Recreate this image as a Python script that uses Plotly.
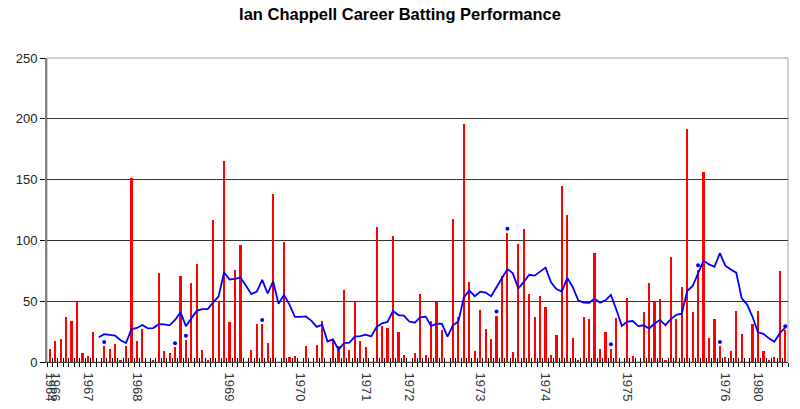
import plotly.graph_objects as go

# ---- data ----
innings = list(range(1, 137))
scores = [
    11, 17, 19, 37, 34, 49, 7, 5, 25, 0,
    13, 11, 15, 2, 13, 151, 17, 27, 0, 2,
    73, 9, 7, 12, 71, 18, 65, 81, 10, 2,
    117, 49, 165, 33, 76, 96, 0, 10, 31, 31,
    16, 138, 0, 99, 4, 5, 0, 13, 0, 14,
    34, 0, 17, 13, 59, 10, 49, 17, 12, 0,
    111, 30, 28, 104, 25, 6, 0, 7, 56, 6,
    34, 49, 26, 0, 118, 37, 196, 66, 9, 43,
    27, 19, 38, 71, 106, 8, 97, 109, 56, 37,
    54, 45, 6, 22, 145, 121, 20, 1, 37, 35,
    90, 11, 25, 11, 36, 0, 53, 5, 0, 41,
    65, 49, 52, 2, 86, 35, 62, 192, 41, 76,
    156, 20, 35, 13, 4, 9, 42, 23, 0, 31,
    42, 9, 2, 4, 75, 26,
]
not_out_innings = [11, 24, 26, 40, 83, 85, 104, 120, 124, 136]
year_tick_innings = [1, 2, 8, 17, 34, 47, 59, 67, 80, 92, 107, 125, 131]
year_tick_labels = ["1964", "1966", "1967", "1968", "1969", "1970", "1971",
                    "1972", "1973", "1974", "1975", "1976", "1980"]
y_ticks = [0, 50, 100, 150, 200, 250]

# ---- derived series ----
not_out_set = set(not_out_innings)
# batting average over the last ten innings (runs / dismissals)
avg_x, avg_y = [], []
for k in range(9, len(scores)):
    window = range(k - 9, k + 1)
    runs = sum(scores[j] for j in window)
    outs = sum(1 for j in window if innings[j] not in not_out_set)
    avg_x.append(innings[k])
    avg_y.append(runs / outs if outs else None)

NOTOUT_LIFT = 3.5
no_x = [i for i in not_out_innings]
no_y = [scores[i - 1] + NOTOUT_LIFT for i in not_out_innings]

boundaries = [i + 0.5 for i in range(0, len(innings) + 1)]

fig = go.Figure()
fig.add_trace(go.Bar(x=innings, y=scores, marker=dict(color="#FF0000", line=dict(width=0)),
                     width=0.4, showlegend=False, hoverinfo="x+y"))
fig.add_trace(go.Scatter(x=avg_x, y=avg_y, mode="lines",
                         line=dict(color="#0000FF", width=1.8), showlegend=False))
fig.add_trace(go.Scatter(x=no_x, y=no_y, mode="markers",
                         marker=dict(color="#0000FF", size=4), showlegend=False))
# invisible helper trace for the inner half of the crossing ticks
fig.add_trace(go.Scatter(x=[innings[0]], y=[0], xaxis="x2", mode="markers",
                         marker=dict(opacity=0), showlegend=False, hoverinfo="skip"))

fig.update_layout(
    width=800, height=409,
    margin=dict(l=47, r=12, t=58, b=47, autoexpand=False),
    paper_bgcolor="white", plot_bgcolor="white",
    font=dict(family="Liberation Sans, Arial, sans-serif", size=13, color="#222222"),
    title=dict(text="<b>Ian Chappell Career Batting Performance</b>",
               x=0.5, xanchor="center", y=0.98, yanchor="top",
               font=dict(size=16.5, color="#000000")),
    bargap=0,
    xaxis=dict(
        range=[0.5, len(innings) + 0.5], tickmode="array",
        tickvals=year_tick_innings, ticktext=year_tick_labels,
        tickangle=90, ticks="", showgrid=False, zeroline=False,
        showline=True, linecolor="#404040", linewidth=1, automargin=False,
        tickfont=dict(size=13, color="#333333"), ticklabelstandoff=7,
        minor=dict(tickmode="array", tickvals=boundaries, ticks="outside",
                   ticklen=4, tickwidth=1, tickcolor="#000000", showgrid=False),
    ),
    xaxis2=dict(
        overlaying="x", anchor="y", side="bottom", automargin=False,
        range=[0.5, len(innings) + 0.5], tickmode="array",
        tickvals=boundaries, ticktext=["" for _ in boundaries],
        ticks="inside", ticklen=4, tickwidth=1, tickcolor="#000000",
        showgrid=False, zeroline=False, showline=False, showticklabels=False,
    ),
    yaxis=dict(
        range=[0, 250], tickmode="array", tickvals=y_ticks, automargin=False,
        ticks="outside", ticklen=5, tickcolor="#000000",
        showgrid=True, gridcolor="#333333", gridwidth=1,
        zeroline=False, showline=True, linecolor="#808080", linewidth=2,
        tickfont=dict(size=13, color="#222222"),
    ),
    shapes=[dict(type="rect", xref="paper", yref="paper", x0=0, y0=0, x1=1, y1=1,
                 line=dict(color="#A0A0A0", width=1), layer="below")],
)

fig.write_html("out.html", config={"displayModeBar": False},
               post_script="document.body.style.margin='0';document.body.style.overflow='hidden';")
